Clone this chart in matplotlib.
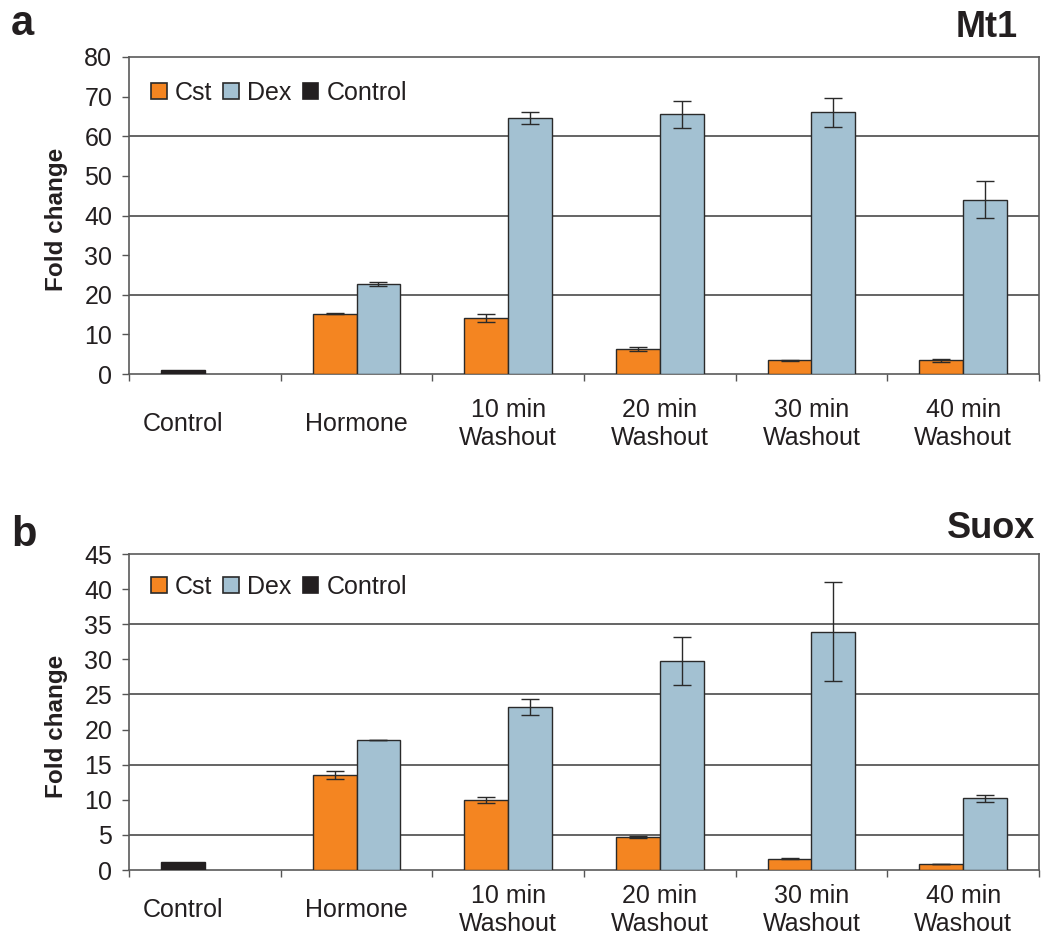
import matplotlib
matplotlib.use("Agg")
import matplotlib.pyplot as plt
import numpy as np
from matplotlib.patches import Patch

plt.rcParams['font.family'] = ['Liberation Sans', 'DejaVu Sans']

categories = ["Control", "Hormone", "10 min\nWashout", "20 min\nWashout", "30 min\nWashout", "40 min\nWashout"]

# Panel a: Mt1
mt1_control = [1.0, np.nan, np.nan, np.nan, np.nan, np.nan]
mt1_cst = [np.nan, 15.2, 14.2, 6.4, 3.45, 3.45]
mt1_cst_err = [0, 0.1, 1.0, 0.5, 0.1, 0.4]
mt1_dex = [np.nan, 22.6, 64.5, 65.5, 66.0, 44.0]
mt1_dex_err = [0, 0.5, 1.5, 3.4, 3.7, 4.6]
mt1_grid = [20, 40, 60]
mt1_ticks = [0, 10, 20, 30, 40, 50, 60, 70, 80]

# Panel b: Suox
suox_control = [1.1, np.nan, np.nan, np.nan, np.nan, np.nan]
suox_cst = [np.nan, 13.5, 10.0, 4.7, 1.6, 0.8]
suox_cst_err = [0, 0.55, 0.45, 0.1, 0.05, 0.0]
suox_dex = [np.nan, 18.5, 23.2, 29.8, 33.9, 10.2]
suox_dex_err = [0, 0.05, 1.1, 3.45, 7.05, 0.55]
suox_grid = [5, 15, 25, 35]
suox_ticks = [0, 5, 10, 15, 20, 25, 30, 35, 40, 45]

ORANGE = "#F48521"
BLUE = "#A3C1D2"
BLACK = "#231F20"
EDGE = "#2a2a2a"
TXT = "#231F20"
FS = 18

fig = plt.figure(figsize=(10.48, 9.41), dpi=100)
W, H = 1048, 941

def make_panel(rect, control, cst, cst_err, dex, dex_err, grid, ticks, label_pad):
    ax = fig.add_axes(rect)
    n = len(categories)
    x = np.arange(n)
    w = 0.29
    ax.bar(x - w/2, control, w, color=BLACK, edgecolor=BLACK, linewidth=1, zorder=3)
    ax.bar(x - w/2, cst, w, color=ORANGE, edgecolor=EDGE, linewidth=1, zorder=3)
    ax.bar(x + w/2, dex, w, color=BLUE, edgecolor=EDGE, linewidth=1, zorder=3)
    ce = [e if not np.isnan(v) else np.nan for v, e in zip(cst, cst_err)]
    de = [e if not np.isnan(v) else np.nan for v, e in zip(dex, dex_err)]
    ax.errorbar(x - w/2, cst, yerr=ce, fmt='none', ecolor=EDGE, elinewidth=1, capsize=6.5, capthick=1, zorder=4)
    ax.errorbar(x + w/2, dex, yerr=de, fmt='none', ecolor=EDGE, elinewidth=1, capsize=6.5, capthick=1, zorder=4)
    for g in grid:
        ax.axhline(g, color="#3a3a3a", linewidth=1.1, zorder=1)
    ax.set_xlim(-0.5, n - 0.5)
    ax.set_ylim(ticks[0], ticks[-1])
    ax.set_yticks(ticks)
    ax.set_yticklabels([str(t) for t in ticks], fontsize=FS, color=TXT)
    ax.tick_params(axis='y', direction='out', length=5, width=1, color="#555555", pad=7)
    # label of the Control group is centred under its (single) bar
    label_pos = x.astype(float).copy()
    label_pos[0] = x[0] - w/2
    ax.set_xticks(label_pos)
    ax.set_xticklabels(categories, fontsize=FS, color=TXT, linespacing=1.22)
    for lab in ax.get_xticklabels():
        lab.set_va('center')
    ax.tick_params(axis='x', which='major', length=0, pad=label_pad)
    ax.set_xticks(np.arange(n + 1) - 0.5, minor=True)
    ax.tick_params(axis='x', which='minor', direction='out', length=5, width=1, color="#555555")
    for s in ax.spines.values():
        s.set_color("#5a5a5a")
        s.set_linewidth(1.2)
    return ax

rect_a = [129/W, 1 - 374/H, (1039-129)/W, (374-57)/H]
rect_b = [129/W, 1 - 870/H, (1039-129)/W, (870-554)/H]
ax_a = make_panel(rect_a, mt1_control, mt1_cst, mt1_cst_err, mt1_dex, mt1_dex_err, mt1_grid, mt1_ticks, 36)
ax_b = make_panel(rect_b, suox_control, suox_cst, suox_cst_err, suox_dex, suox_dex_err, suox_grid, suox_ticks, 29)

handles = [Patch(facecolor=ORANGE, edgecolor=EDGE, linewidth=1.2, label="Cst"),
           Patch(facecolor=BLUE, edgecolor=EDGE, linewidth=1.2, label="Dex"),
           Patch(facecolor=BLACK, edgecolor=BLACK, linewidth=1.2, label="Control")]
for ly in (93, 587):
    fig.legend(handles=handles, loc='center left', bbox_to_anchor=(151/W, 1 - ly/H),
               ncol=3, frameon=False, fontsize=FS, handlelength=0.62, handleheight=0.62,
               handletextpad=0.33, columnspacing=0.45, borderpad=0, borderaxespad=0,
               labelcolor=TXT)

fig.text(57/W, 1 - 219/H, "Fold change", rotation=90, ha='center', va='center',
         fontsize=17.5, fontweight='bold', color=TXT)
fig.text(57/W, 1 - 726/H, "Fold change", rotation=90, ha='center', va='center',
         fontsize=17.5, fontweight='bold', color=TXT)

fig.text(11/W, 1 - 35/H, "a", fontsize=30, fontweight='bold', color=TXT, va='baseline', ha='left')
fig.text(1018/W, 1 - 37/H, "Mt1", fontsize=26, fontweight='bold', color=TXT, va='baseline', ha='right')
fig.text(11/W, 1 - 546/H, "b", fontsize=30, fontweight='bold', color=TXT, va='baseline', ha='left')
fig.text(1035/W, 1 - 538/H, "Suox", fontsize=26, fontweight='bold', color=TXT, va='baseline', ha='right')

fig.savefig("out.png", dpi=100)
